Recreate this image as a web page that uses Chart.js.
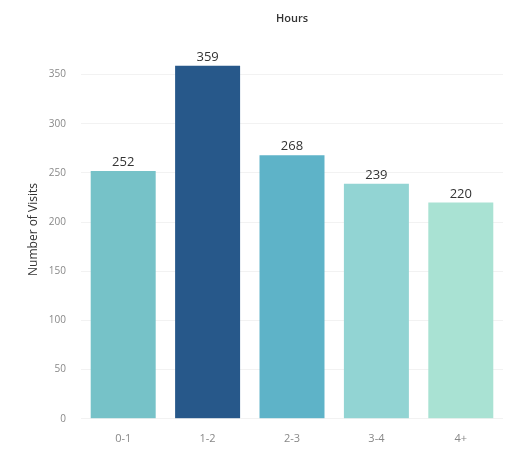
<!DOCTYPE html>
<html>
<head>
<meta charset="utf-8">
<script src="https://cdn.jsdelivr.net/npm/chart.js@4"></script>
<style>
  html, body { margin: 0; padding: 0; background: #fff; }
  #wrap { width: 506px; height: 475px; }
</style>
</head>
<body>
<div id="wrap"><canvas id="visitas"></canvas></div>
<script>
// visitas por faixa de horas
const faixas = ['0-1', '1-2', '2-3', '3-4', '4+'];
const visitas = [252, 359, 268, 239, 220];
const cores = ['#76c2c8', '#27588a', '#5eb3c8', '#92d4d3', '#a9e2d3'];
const yTicks = [0, 50, 100, 150, 200, 250, 300, 350];

// escreve o valor em cima de cada barra
const rotulos = {
  id: 'rotulos',
  afterDatasetsDraw(chart) {
    const ctx = chart.ctx;
    const meta = chart.getDatasetMeta(0);
    ctx.save();
    ctx.font = '13px "Open Sans", sans-serif';
    ctx.fillStyle = '#333';
    ctx.textAlign = 'center';
    ctx.textBaseline = 'bottom';
    meta.data.forEach((bar, i) => {
      ctx.fillText(visitas[i], bar.x, bar.y - 2);
    });
    ctx.restore();
  }
};

const ctx = document.getElementById('visitas');
new Chart(ctx, {
  type: 'bar',
  data: {
    labels: faixas,
    datasets: [{
      label: 'Number of Visits',
      data: visitas,
      backgroundColor: cores,
      barPercentage: 0.77,
      categoryPercentage: 1
    }]
  },
  options: {
    responsive: true,
    maintainAspectRatio: false,
    animation: false,
    layout: {
      padding: { left: 22, right: 3, top: 8, bottom: 17 }
    },
    plugins: {
      legend: { display: false },
      tooltip: { enabled: false },
      title: {
        display: true,
        text: 'Hours',
        fullSize: false,
        color: '#333',
        font: { family: '"Open Sans", sans-serif', size: 11, weight: '600' },
        padding: { top: 4, bottom: 15 }
      }
    },
    scales: {
      x: {
        grid: { display: false, drawTicks: false },
        border: { display: false },
        ticks: {
          color: '#888',
          padding: 13,
          font: { family: '"Open Sans", sans-serif', size: 11 }
        }
      },
      y: {
        min: 0,
        max: 385,
        afterBuildTicks: (scale) => {
          scale.ticks = yTicks.map(v => ({ value: v }));
        },
        afterFit: (scale) => {
          scale.width = 59;
        },
        grid: { color: '#f2f2f2', drawTicks: false },
        border: { display: false },
        ticks: {
          color: '#888',
          padding: 15,
          font: { family: '"Open Sans", sans-serif', size: 10 }
        },
        title: {
          display: true,
          text: 'Number of Visits',
          color: '#333',
          font: { family: '"Open Sans", sans-serif', size: 12 }
        }
      }
    }
  },
  plugins: [rotulos]
});
</script>
</body>
</html>
